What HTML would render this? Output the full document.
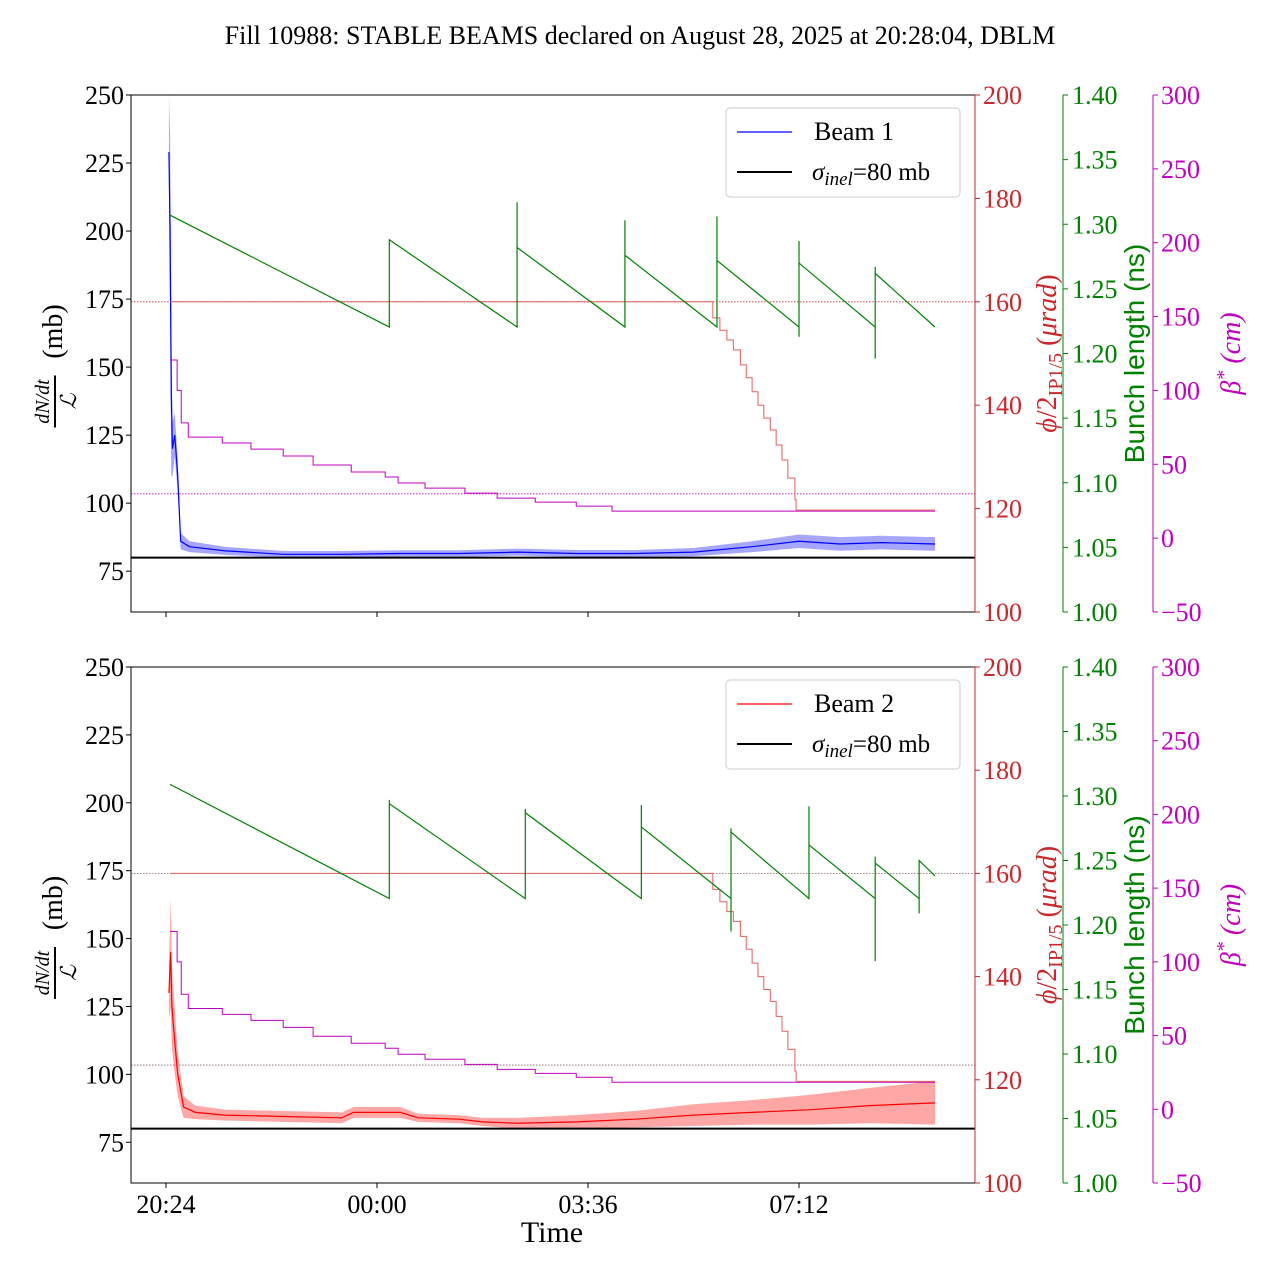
<!DOCTYPE html>
<html><head><meta charset="utf-8">
<style>
html,body{margin:0;padding:0;background:#fff;}
svg{display:block;font-family:"Liberation Serif",serif;}
</style></head>
<body>
<svg id="chart" width="1280" height="1280" viewBox="0 0 1280 1280" xmlns="http://www.w3.org/2000/svg">
<text x="640" y="44" font-size="26" text-anchor="middle">Fill 10988: STABLE BEAMS declared on August 28, 2025 at 20:28:04, DBLM</text>
</svg>
<script>
// ---------- data ----------
const xTickLabels = ["20:24","00:00","03:36","07:12"];
const xTickHours = [0,3.6,7.2,10.8];
const leftTicks = [75,100,125,150,175,200,225,250];
const redTicks = [100,120,140,160,180,200];
const greenTicks = [1.00,1.05,1.10,1.15,1.20,1.25,1.30,1.35,1.40];
const magTicks = [-50,0,50,100,150,200,250,300];

// bunch length (ns) – top panel
const t_green1 = [0.07,3.81,3.81,5.99,5.99,5.99,7.83,7.83,7.83,9.40,9.40,9.40,10.80,10.80,10.80,10.80,12.10,12.10,12.10,12.10,13.12];
const v_green1 = [1.307,1.2205,1.288,1.2205,1.317,1.282,1.2205,1.303,1.276,1.2205,1.306,1.272,1.2205,1.213,1.287,1.270,1.2205,1.196,1.267,1.262,1.2205];
// bunch length – bottom panel
const t_green2 = [0.07,3.81,3.81,3.81,6.13,6.13,6.13,8.11,8.11,8.11,9.64,9.64,9.64,9.64,10.97,10.97,10.97,12.10,12.10,12.10,12.10,12.85,12.85,12.85,13.12];
const v_green2 = [1.309,1.2205,1.297,1.294,1.2205,1.290,1.287,1.2205,1.293,1.276,1.2205,1.195,1.275,1.272,1.2205,1.292,1.262,1.2205,1.172,1.253,1.248,1.2205,1.209,1.250,1.238];

// beta* steps (cm)
const betaTimes = [0.07,0.19,0.26,0.38,0.96,1.45,2.0,2.51,3.16,3.74,3.96,4.42,5.10,5.65,6.30,7.0,7.61];
const betaVals = [120.6,100,78,68.4,64.4,60.3,55.6,49.5,44.8,41.4,37.3,33.9,30.5,27.1,24.4,21.7,18.3];
const betaEnd = 13.12;

// crossing angle steps (urad)
const xangTimes = [0.07,9.33,9.45,9.57,9.68,9.80,9.90,10.0,10.10,10.20,10.31,10.41,10.51,10.61,10.73,10.75];
const xangVals = [160,156.9,154.5,152.6,150.7,147.8,145.3,142.6,140.0,137.5,135.2,132.3,129.4,125.9,121.7,119.7];
const xangEnd = 13.12;

// beam 1 ratio (mb)
const t_b1 = [0.05,0.07,0.09,0.11,0.15,0.20,0.25,0.40,1,2,3,4,5,6,7,8,9,10,10.8,11.5,12.2,13.12];
const v_b1 = [229,200,140,120,125,110,86,84,82.5,81.2,81.2,81.5,81.5,82,81.5,81.5,82,84,86,85,85.5,85];
const band_b1 = [25,35,30,10,8,6,3,2,1.5,1.2,1.2,1.2,1.2,1.3,1.3,1.3,1.5,2,2.5,2.5,2.5,2.5];
// beam 2 ratio (mb)
const t_b2 = [0.05,0.08,0.10,0.15,0.20,0.30,0.50,1,2,3,3.2,4,4.3,5,5.4,6,7,8,9,10,11,12,13.12];
const v_b2 = [130,145,125,112,100,88,86,85,84.5,84,86,86,84,83.5,82.5,82,82.5,83.5,85,86,87,88.5,89.5];
const band_b2 = [10,20,15,12,8,4,2.5,2,2,2,2,2,1.5,1.5,1.5,2,2.5,3,4,4.5,5.5,6.5,8];

const sigmaInel = 80;
const xRefLine = 160, betaRefLine = 30;

// ---------- geometry ----------
const svg = document.getElementById('chart');
const NS = "http://www.w3.org/2000/svg";
const XL=131, XR=975;
const xs = t => 166 + t*211/3.6;
function mk(tag, attrs, parent){const e=document.createElementNS(NS,tag);for(const k in attrs)e.setAttribute(k,attrs[k]);(parent||svg).appendChild(e);return e;}
const RED="#c8282b", GREEN="#008000", MAG="#c000c0";

function panel(y0,y1,idx){
  const g = mk('g',{});
  
  
  const H=y1-y0;
  const yL = v => y1-(v-60)/190*H;
  const yR = v => y1-(v-100)/100*H;
  const yG = v => y1-(v-1.0)/0.4*H;
  const yM = v => y1-(v+50)/350*H;
  const refCol = idx===1?RED:"#806060";
  let l=mk('line',{x1:XL,x2:XR,y1:yR(xRefLine),y2:yR(xRefLine),stroke:refCol,'stroke-width':0.8,'stroke-dasharray':'1.5,1.5'},g);
   
  l=mk('line',{x1:XL,x2:XR,y1:yM(betaRefLine),y2:yM(betaRefLine),stroke:idx===1?MAG:"#806060",'stroke-width':0.8,'stroke-dasharray':'1.5,1.5'},g);
   
  const T=idx===1?t_b1:t_b2, V=idx===1?v_b1:v_b2, B=idx===1?band_b1:band_b2;
  const col = idx===1?"#0000ff":"#ff0000";
  let up=T.map((t,i)=>xs(t)+','+Math.max(y0,yL(V[i]+B[i])));
  let dn=T.map((t,i)=>xs(t)+','+yL(V[i]-B[i])).reverse();
  let p=mk('polygon',{points:up.concat(dn).join(' '),fill:col,'fill-opacity':0.35},g);
   
  p=mk('polyline',{points:T.map((t,i)=>xs(t)+','+yL(V[i])).join(' '),fill:'none',stroke:col,'stroke-width':1.2},g);
   
  l=mk('line',{x1:XL,x2:XR,y1:yL(sigmaInel),y2:yL(sigmaInel),stroke:'#000','stroke-width':2},g);
   
  let pts=[];
  betaTimes.forEach((t,i)=>{const tn=i<betaTimes.length-1?betaTimes[i+1]:betaEnd;pts.push(xs(t)+','+yM(betaVals[i]));pts.push(xs(tn)+','+yM(betaVals[i]));});
  p=mk('polyline',{points:pts.join(' '),fill:'none',stroke:MAG,'stroke-width':1},g);
   
  pts=[];
  xangTimes.forEach((t,i)=>{const tn=i<xangTimes.length-1?xangTimes[i+1]:xangEnd;pts.push(xs(t)+','+yR(xangVals[i]));pts.push(xs(tn)+','+yR(xangVals[i]));});
  p=mk('polyline',{points:pts.join(' '),fill:'none',stroke:'#e06060','stroke-width':1},g);
   
  const TG=idx===1?t_green1:t_green2, VG=idx===1?v_green1:v_green2;
  p=mk('polyline',{points:TG.map((t,i)=>xs(t)+','+yG(VG[i])).join(' '),fill:'none',stroke:GREEN,'stroke-width':1.2},g);
   
  let r=mk('rect',{x:XL,y:y0,width:XR-XL,height:H,fill:'none',stroke:'#000','stroke-width':1},g);
   
  l=mk('line',{x1:XR,x2:XR,y1:y0,y2:y1,stroke:RED,'stroke-width':1},g);
   
  l=mk('line',{x1:1063,x2:1063,y1:y0,y2:y1,stroke:GREEN,'stroke-width':1},g);
   
  l=mk('line',{x1:1153,x2:1153,y1:y0,y2:y1,stroke:MAG,'stroke-width':1},g);
   
  leftTicks.forEach(v=>{const y=yL(v);mk('line',{x1:XL-5,x2:XL,y1:y,y2:y,stroke:'#000'},g);
    const t=mk('text',{x:XL-7,y:y+9,'font-size':26,'text-anchor':'end'},g);t.textContent=v;
     });
  redTicks.forEach(v=>{const y=yR(v);mk('line',{x1:XR,x2:XR+5,y1:y,y2:y,stroke:RED},g);
    const t=mk('text',{x:XR+8,y:y+9,'font-size':26,fill:RED},g);t.textContent=v;
     });
  greenTicks.forEach(v=>{const y=yG(v);mk('line',{x1:1063,x2:1068,y1:y,y2:y,stroke:GREEN},g);
    const t=mk('text',{x:1072,y:y+9,'font-size':26,fill:GREEN},g);t.textContent=v.toFixed(2);
     });
  magTicks.forEach(v=>{const y=yM(v);mk('line',{x1:1153,x2:1158,y1:y,y2:y,stroke:MAG},g);
    const t=mk('text',{x:1161,y:y+9,'font-size':26,fill:MAG},g);t.textContent=(v<0?'\u2212'+(-v):v);
     });
  xTickHours.forEach((h,i)=>{const x=xs(h);mk('line',{x1:x,x2:x,y1:y1,y2:y1+5,stroke:'#000'},g);
    if(idx===2){const t=mk('text',{x:x,y:y1+30,'font-size':26,'text-anchor':'middle'},g);t.textContent=xTickLabels[i];
     }});
  const cy=(y0+y1)/2;
  const lab=mk('g',{transform:`translate(52,${cy+8}) rotate(-90)`},g);
   
  let t=mk('text',{x:-40,y:-3,'font-size':20,'font-style':'italic','text-anchor':'middle'},lab);t.textContent='dN/dt';
  mk('line',{x1:-66,x2:-14,y1:3,y2:3,stroke:'#000','stroke-width':2},lab);
  t=mk('text',{x:-40,y:24,'font-size':22,'font-style':'italic','text-anchor':'middle'},lab);t.textContent='\u2112';
  t=mk('text',{x:30,y:10,'font-size':28,'text-anchor':'middle'},lab);t.textContent='(mb)';
  t=mk('text',{transform:`translate(1056,${cy}) rotate(-90)`,'font-size':28,fill:RED,'text-anchor':'middle'},g);
  t.innerHTML='<tspan font-style="italic">\u03d5</tspan>/2<tspan font-size="20" dy="6">IP1/5</tspan><tspan dy="-6"> (</tspan><tspan font-style="italic">\u03bcrad</tspan>)';
   
  t=mk('text',{transform:`translate(1144,${cy}) rotate(-90)`,'font-size':28,fill:GREEN,'text-anchor':'middle','font-family':'Liberation Sans, sans-serif'},g);
  t.textContent='Bunch length (ns)';
   
  t=mk('text',{transform:`translate(1240,${cy}) rotate(-90)`,'font-size':28,fill:MAG,'text-anchor':'middle','font-style':'italic'},g);
  t.innerHTML='\u03b2<tspan font-size="20" dy="-10">*</tspan><tspan dy="10"> (cm)</tspan>';
   
  const lg=mk('g',{},g);
   
  mk('rect',{x:726,y:y0+13,width:234,height:89,rx:4,fill:'#fff','fill-opacity':0.85,stroke:'#ccc'},lg);
  mk('line',{x1:737,x2:792,y1:y0+37,y2:y0+37,stroke:col,'stroke-width':1.2},lg);
  t=mk('text',{x:814,y:y0+45,'font-size':26},lg);t.textContent=idx===1?'Beam 1':'Beam 2';
   
  mk('line',{x1:737,x2:792,y1:y0+77,y2:y0+77,stroke:'#000','stroke-width':2},lg);
  t=mk('text',{x:812,y:y0+85,'font-size':25},lg);
  t.innerHTML='<tspan font-style="italic">\u03c3</tspan><tspan font-size="19" dy="5" font-style="italic">inel</tspan><tspan dy="-5">=80 mb</tspan>';
   
}
panel(95,612,1);
panel(667,1183,2);
const tt=mk('text',{x:552,y:1242,'font-size':30,'text-anchor':'middle'});
tt.textContent='Time';


</script>
</body></html>
